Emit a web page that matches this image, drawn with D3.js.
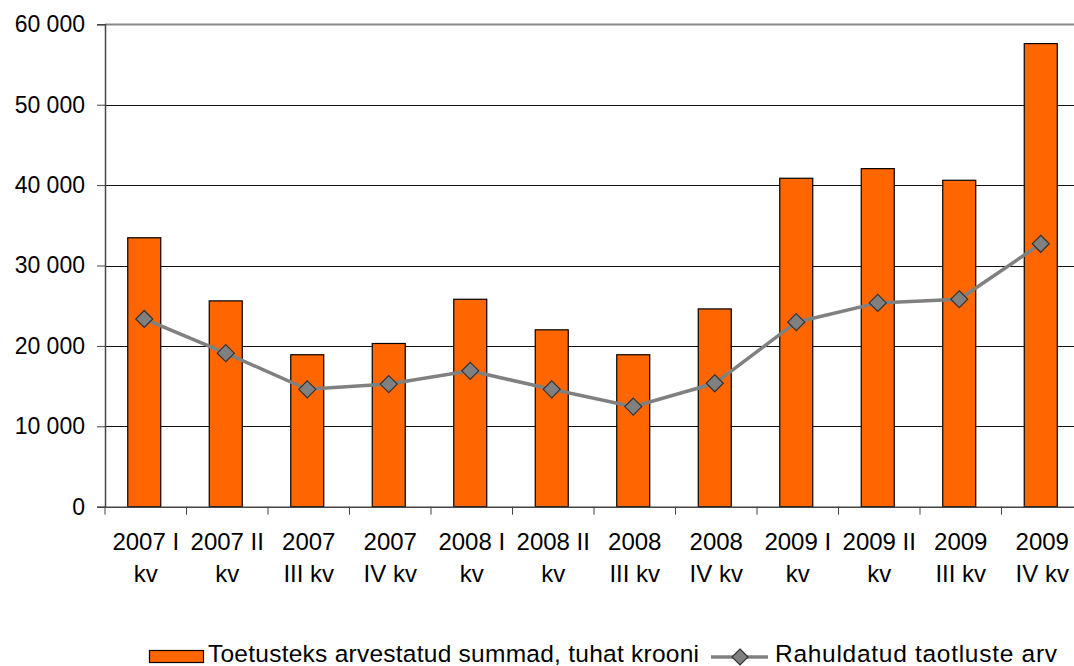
<!DOCTYPE html>
<html>
<head>
<meta charset="utf-8">
<script src="https://cdn.jsdelivr.net/npm/d3@7"></script>
<style>
  body { margin: 0; background: #fff; }
  svg { display: block; font-family: "Liberation Sans", Arial, sans-serif; }
</style>
</head>
<body>
<script>
// data
const categories = ["2007 I kv", "2007 II kv", "2007 III kv", "2007 IV kv",
  "2008 I kv", "2008 II kv", "2008 III kv", "2008 IV kv",
  "2009 I kv", "2009 II kv", "2009 III kv", "2009 IV kv"];
const tickLines = [["2007 I", "kv"], ["2007 II", "kv"], ["2007", "III kv"], ["2007", "IV kv"],
  ["2008 I", "kv"], ["2008 II", "kv"], ["2008", "III kv"], ["2008", "IV kv"],
  ["2009 I", "kv"], ["2009 II", "kv"], ["2009", "III kv"], ["2009", "IV kv"]];
const summad = [33450, 25600, 18900, 20300, 25800, 22000, 18900, 24600, 40850, 42050, 40600, 57600];
const taotlused = [23350, 19100, 14600, 15250, 16900, 14600, 12450, 15350, 22950, 25350, 25800, 32700];
const yTicks = [0, 10000, 20000, 30000, 40000, 50000, 60000];
const seriesNames = ["Toetusteks arvestatud summad, tuhat krooni", "Rahuldatud taotluste arv"];

const width = 1074, height = 666;
const plotLeft = 105, plotRight = 1083, plotTop = 24.3, plotBottom = 506.7;

const svg = d3.select("body").append("svg")
  .attr("width", width).attr("height", height);

const x = d3.scaleBand().domain(categories).range([plotLeft, plotRight]).padding(0);
const y = d3.scaleLinear().domain([0, 60000]).range([plotBottom, plotTop]);
const fmt = d3.formatLocale({decimal: ",", thousands: " ", grouping: [3], currency: ["", ""]}).format(",d");

// grid lines
svg.append("g").selectAll("line")
  .data(yTicks.filter(d => d > 0))
  .join("line")
    .attr("x1", plotLeft).attr("x2", plotRight)
    .attr("y1", d => Math.round(y(d)) + 0.5).attr("y2", d => Math.round(y(d)) + 0.5)
    .attr("stroke", d => d === 60000 ? "#888" : "#111")
    .attr("stroke-width", d => d === 60000 ? 2 : 1);

// y axis
const yAxis = svg.append("g")
  .attr("transform", `translate(${plotLeft},0)`)
  .call(d3.axisLeft(y).tickValues(yTicks).tickFormat(fmt).tickSize(8).tickPadding(12));
yAxis.select(".domain").attr("stroke", "#444").attr("stroke-width", 1.5);
yAxis.selectAll(".tick line").attr("stroke", "#444");
yAxis.selectAll("text").attr("font-size", 23).attr("fill", "#000")
  .attr("font-family", "Liberation Sans, Arial, sans-serif");

// bars
const barW = 33;
svg.append("g").selectAll("rect")
  .data(summad)
  .join("rect")
    .attr("x", (d, i) => x(categories[i]) + x.bandwidth() / 2 - barW / 2 - 1.5)
    .attr("y", d => y(d))
    .attr("width", barW)
    .attr("height", d => plotBottom - y(d))
    .attr("fill", "#ff6600")
    .attr("stroke", "#000")
    .attr("stroke-width", 1.2);

// x axis
const xAxis = svg.append("g")
  .attr("transform", `translate(0,${plotBottom})`)
  .call(d3.axisBottom(x).tickSize(0).tickFormat(""));
xAxis.select(".domain").attr("stroke", "#444").attr("stroke-width", 1.5);
xAxis.selectAll(".tick").remove();
xAxis.selectAll(".sep")
  .data(d3.range(categories.length + 1))
  .join("line")
    .attr("x1", i => plotLeft + i * x.bandwidth()).attr("x2", i => plotLeft + i * x.bandwidth())
    .attr("y1", 0).attr("y2", 8)
    .attr("stroke", "#444");

const labels = svg.append("g").selectAll("text")
  .data(categories)
  .join("text")
    .attr("text-anchor", "middle")
    .attr("font-size", 24)
    .attr("fill", "#000");
labels.selectAll("tspan")
  .data((d, i) => tickLines[i].map(t => ({t, c: d})))
  .join("tspan")
    .attr("x", d => x(d.c) + x.bandwidth() / 2)
    .attr("y", (d, j) => 550 + j * 32)
    .text(d => d.t);

// line series
const cx = (d, i) => x(categories[i]) + x.bandwidth() / 2 - 1.5;
svg.append("path")
  .datum(taotlused)
  .attr("d", d3.line().x(cx).y(d => y(d)))
  .attr("fill", "none")
  .attr("stroke", "#808080")
  .attr("stroke-width", 3.5);

const diamond = "M0,-8.5L8.5,0L0,8.5L-8.5,0Z";
svg.append("g").selectAll("path")
  .data(taotlused)
  .join("path")
    .attr("transform", (d, i) => `translate(${cx(d, i)},${y(d)})`)
    .attr("d", diamond)
    .attr("fill", "#808080")
    .attr("stroke", "#333")
    .attr("stroke-width", 1.2);

// legend
const leg = svg.append("g");
leg.append("rect")
  .attr("x", 149.5).attr("y", 650.5).attr("width", 54).attr("height", 12)
  .attr("fill", "#ff6600").attr("stroke", "#000").attr("stroke-width", 1.2);
leg.append("text")
  .attr("x", 208).attr("y", 662).attr("font-size", 24.5).attr("fill", "#000")
  .attr("textLength", 491).attr("lengthAdjust", "spacing")
  .text(seriesNames[0]);
leg.append("line")
  .attr("x1", 711).attr("x2", 768).attr("y1", 657).attr("y2", 657)
  .attr("stroke", "#808080").attr("stroke-width", 3.5);
leg.append("path")
  .attr("transform", "translate(740,657)")
  .attr("d", "M0,-8L8,0L0,8L-8,0Z")
  .attr("fill", "#808080").attr("stroke", "#333").attr("stroke-width", 1.2);
leg.append("text")
  .attr("x", 775).attr("y", 662).attr("font-size", 24.5).attr("fill", "#000")
  .attr("textLength", 282).attr("lengthAdjust", "spacing")
  .text(seriesNames[1]);
</script>
</body>
</html>
